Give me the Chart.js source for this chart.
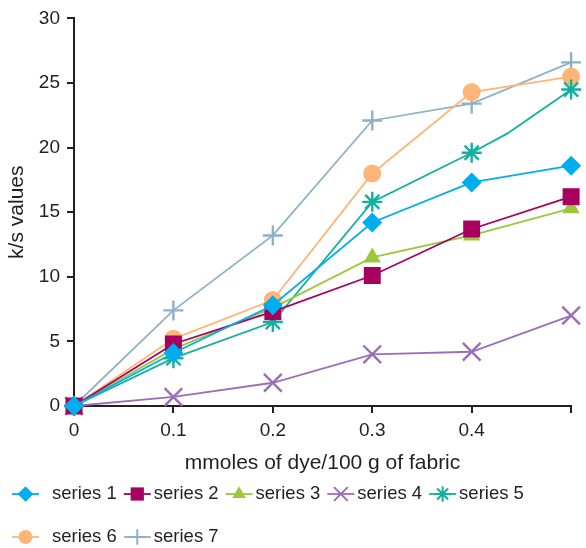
<!DOCTYPE html>
<html>
<head>
<meta charset="utf-8">
<script src="https://cdn.jsdelivr.net/npm/chart.js@4/dist/chart.umd.min.js"></script>
<style>
  html, body { margin: 0; padding: 0; background: #fff; }
  #wrap { width: 586px; height: 548px; position: relative; }
</style>
</head>
<body>
<div id="wrap"><canvas id="chart"></canvas></div>
<script>
// values
const xValues = [0, 0.1, 0.2, 0.3, 0.4, 0.5];
const xTickLabels = ["0", "0.1", "0.2", "0.3", "0.4", ""];
const seriesNames = ["series 1", "series 2", "series 3", "series 4", "series 5", "series 6", "series 7"];

const series1 = [0, 4.1, 7.8, 14.2, 17.3, 18.6];
const series2 = [0, 4.8, 7.3, 10.1, 13.7, 16.2];
const series3 = [0, 4.4, 7.6, 11.5, 13.2, 15.3];
const series4 = [0, 0.7, 1.8, 4.0, 4.2, 7.0];
// series 5 has a visible bend between 0.4 and 0.5 (no marker there)
const series5X = [0, 0.1, 0.2, 0.3, 0.4, 0.436, 0.5];
const series5 = [0, 3.7, 6.5, 15.8, 19.6, 21.1, 24.5];
const series6 = [0, 5.2, 8.2, 18.0, 24.3, 25.5];
const series7 = [0, 7.4, 13.2, 22.1, 23.4, 26.6];

const colors = ["#00aeef", "#a8005f", "#9bc73d", "#9b6fb8", "#14b09e", "#fdb677", "#8db2c8"];
const styles = ["rectRot", "rect", "triangle", "crossRot", "star", "circle", "cross"];
const radii = [10, 12, 10, 12.5, 10, 9, 10];

const FONT = "'Liberation Sans', Arial, sans-serif";
const INK = "#231f20";

function pts(xs, ys) {
  return ys.map((y, i) => ({ x: xs[i], y: y }));
}

const seriesData = [
  pts(xValues, series1),
  pts(xValues, series2),
  pts(xValues, series3),
  pts(xValues, series4),
  pts(series5X, series5),
  pts(xValues, series6),
  pts(xValues, series7)
];

const datasets = seriesData.map((data, i) => {
  const lineOnly = styles[i] === "cross" || styles[i] === "crossRot" || styles[i] === "star";
  return {
    label: seriesNames[i],
    data: data,
    borderColor: colors[i],
    backgroundColor: colors[i],
    borderWidth: 1.8,
    tension: 0,
    clip: false,
    pointStyle: styles[i],
    pointRadius: ctx => (i === 4 && ctx.dataIndex === 5 ? 0 : radii[i]),
    pointHoverRadius: radii[i],
    pointBorderWidth: lineOnly ? 2.4 : 0,
    pointBackgroundColor: colors[i],
    pointBorderColor: colors[i]
  };
});

// legend: line segment with marker, then label, in two rows
const legendRows = [[0, 1, 2, 3, 4], [5, 6]];
const legendRowY = [494, 537];

const lineLegend = {
  id: "lineLegend",
  afterDraw(chart) {
    const ctx = chart.ctx;
    ctx.save();
    ctx.font = "18.5px " + FONT;
    ctx.textBaseline = "middle";
    legendRows.forEach((row, r) => {
      let x = 12;
      row.forEach((i, k) => {
        const y = legendRowY[r];
        const x0 = k === 0 ? 12 : x + 7;
        ctx.strokeStyle = colors[i];
        ctx.fillStyle = colors[i];
        ctx.lineWidth = 1.8;
        ctx.beginPath();
        ctx.moveTo(x0, y);
        ctx.lineTo(x0 + 27, y);
        ctx.stroke();
        const lineOnly = styles[i] === "cross" || styles[i] === "crossRot" || styles[i] === "star";
        ctx.lineWidth = lineOnly ? 2 : 0.01;
        Chart.helpers.drawPoint(ctx, {
          pointStyle: styles[i],
          radius: radii[i] * 0.78,
          rotation: 0,
          borderWidth: lineOnly ? 2 : 0
        }, x0 + 13.5, y);
        const tx = k === 0 ? x0 + 40 : x0 + 30;
        ctx.fillStyle = INK;
        ctx.fillText(seriesNames[i], tx, y);
        x = tx + ctx.measureText(seriesNames[i]).width;
      });
    });
    ctx.restore();
  }
};

new Chart(document.getElementById("chart").getContext("2d"), {
  type: "line",
  data: { datasets: datasets },
  plugins: [lineLegend],
  options: {
    responsive: true,
    maintainAspectRatio: false,
    animation: false,
    events: [],
    layout: { padding: { left: 0, right: 14, top: 18, bottom: 72 } },
    plugins: { legend: { display: false }, tooltip: { enabled: false } },
    scales: {
      x: {
        type: "linear",
        min: 0,
        max: 0.5,
        afterFit: s => { s.height = 70; },
        afterBuildTicks: s => { s.ticks = xValues.map(v => ({ value: v })); },
        ticks: {
          color: INK,
          font: { family: FONT, size: 19 },
          padding: 6,
          maxRotation: 0,
          autoSkip: false,
          callback: (v, i) => xTickLabels[i]
        },
        grid: {
          drawOnChartArea: false,
          drawTicks: true,
          tickLength: 7,
          lineWidth: 2,
          color: ctx => (ctx.index === 0 ? "rgba(0,0,0,0)" : INK)
        },
        border: { color: INK, width: 2 },
        title: {
          display: true,
          text: "mmoles of dye/100 g of fabric",
          color: INK,
          font: { family: FONT, size: 21, lineHeight: "26px" },
          padding: 0
        }
      },
      y: {
        min: 0,
        max: 30,
        afterFit: s => { s.width = 74; },
        ticks: {
          stepSize: 5,
          color: INK,
          font: { family: FONT, size: 19 },
          padding: 7
        },
        grid: {
          drawOnChartArea: false,
          drawTicks: true,
          tickLength: 7,
          lineWidth: 2,
          color: INK
        },
        border: { color: INK, width: 2 },
        title: {
          display: true,
          text: "k/s values",
          color: INK,
          font: { family: FONT, size: 21, lineHeight: "35px" },
          padding: 0
        }
      }
    }
  }
});
</script>
</body>
</html>
